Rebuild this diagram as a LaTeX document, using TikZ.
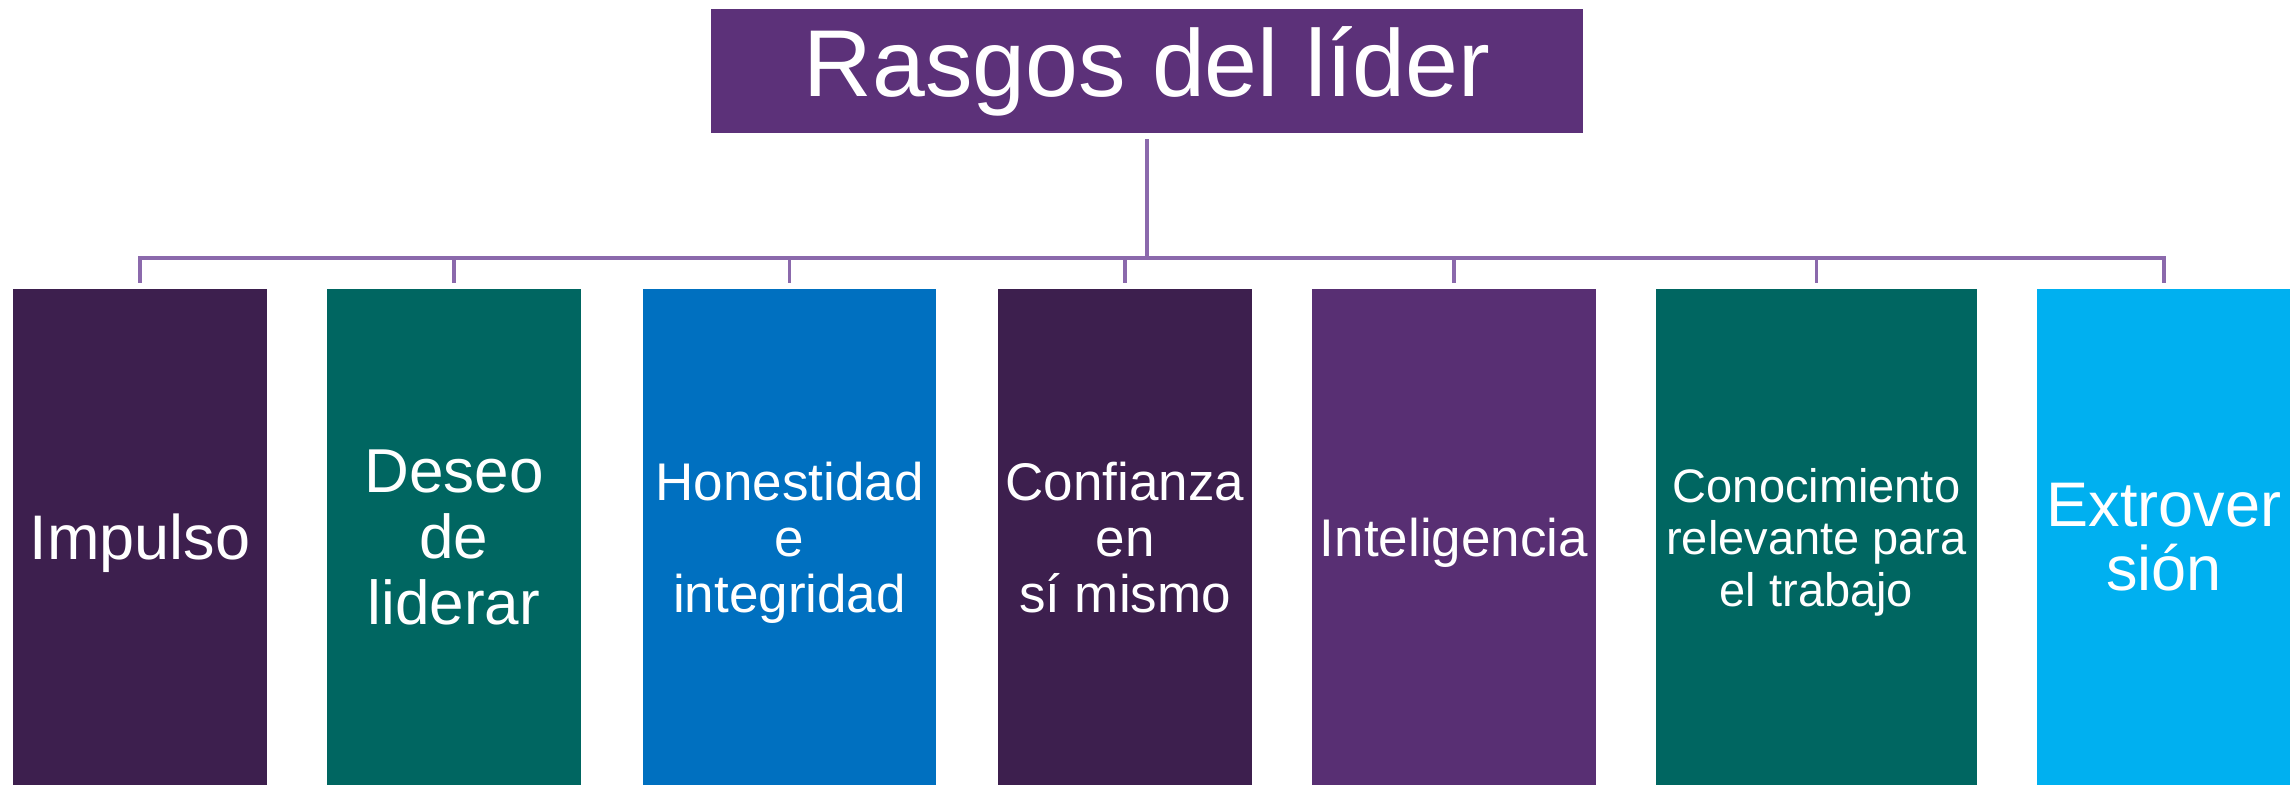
\documentclass[tikz,border=0pt]{standalone}
\usepackage{fontspec}
\setmainfont{Liberation Sans}
\usepackage{xcolor}
\usepackage{tikz}

\definecolor{titlepurple}{HTML}{5C3179}
\definecolor{darkplum}{HTML}{3D1F4E}
\definecolor{deepteal}{HTML}{006661}
\definecolor{ocean}{HTML}{0070C0}
\definecolor{violet}{HTML}{582F73}
\definecolor{skycyan}{HTML}{00B0F0}
\definecolor{linkline}{HTML}{8B69AC}

\begin{document}
\begin{tikzpicture} [x=0.5pt,y=-0.5pt,
  trait/.style={inner sep=0pt, minimum height=248pt, text depth=0pt, text=white, align=center},
  link/.style={draw=linkline, line width=1.8pt}]
  \def\ymid{537};
  \def\ybar{258};
  \useasboundingbox (0,0) rectangle (2290,785);

  \node[fill=titlepurple, text=white, inner sep=0pt, minimum width=436pt, minimum height=62pt,
        font=\fontsize{47.5}{57}\selectfont] (title) at (1147,71) {Rasgos del líder}; %top box%

  \node[trait, fill=darkplum, minimum width=127pt, font=\fontsize{31.5}{33}\selectfont]
    (impulso) at (140,\ymid) {Impulso};
  \node[trait, fill=deepteal, minimum width=127pt, font=\fontsize{31}{33}\selectfont]
    (deseo) at (454,\ymid) {Deseo\\de\\liderar};
  \node[trait, fill=ocean, minimum width=146.5pt, font=\fontsize{26.5}{28}\selectfont]
    (honestidad) at (789.5,\ymid) {Honestidad\\e\\integridad};
  \node[trait, fill=darkplum, minimum width=127pt, font=\fontsize{26.5}{28}\selectfont]
    (confianza) at (1125,\ymid) {Confianza\\en\\sí mismo};
  \node[trait, fill=violet, minimum width=142pt, font=\fontsize{26.5}{28}\selectfont]
    (inteligencia) at (1454,\ymid) {Inteligencia};
  \node[trait, fill=deepteal, minimum width=160.5pt, font=\fontsize{23.5}{26}\selectfont]
    (conocimiento) at (1816.5,\ymid) {Conocimiento\\relevante para\\el trabajo};
  \node[trait, fill=skycyan, minimum width=127pt, font=\fontsize{31.5}{32}\selectfont]
    (extroversion) at (2164,\ymid) {Extrover\\sión};

  \coordinate (bar) at (1147,\ybar); %branch point%
  \draw[link] ([yshift=-3pt]title.south) -- (bar);
  \foreach \n in {impulso,deseo,honestidad,confianza,inteligencia,conocimiento,extroversion}
    \draw[link] (bar) -| ([yshift=3pt]\n.north);
\end{tikzpicture}
\end{document}
